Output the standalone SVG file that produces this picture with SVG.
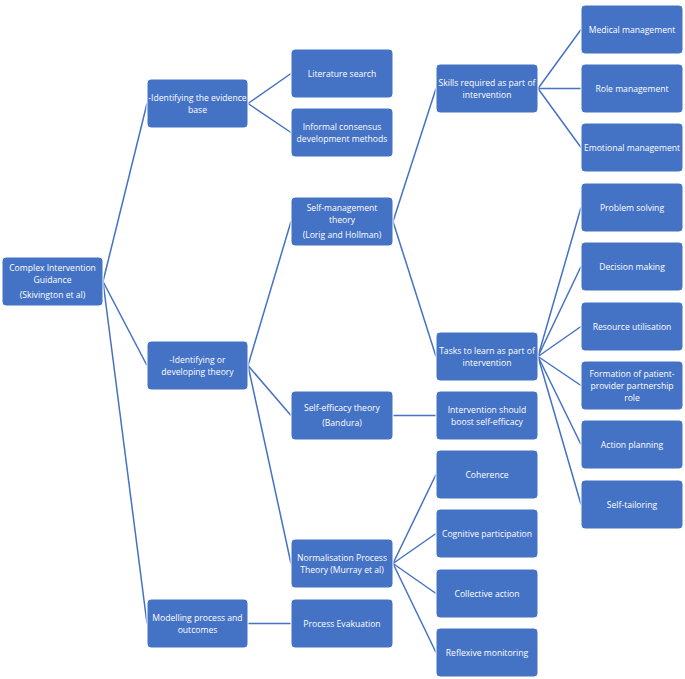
<svg xmlns="http://www.w3.org/2000/svg" width="685" height="679" viewBox="0 0 685 679">
<style>
.n rect{fill:#4472C4;stroke:#ffffff;stroke-width:1}
.n text{fill:#ffffff;font-family:"Open Sans","Liberation Sans",sans-serif;font-size:8.6px;text-anchor:middle}
#connectors line{stroke:#4472C4;stroke-width:1.5}
</style>
<rect width="685" height="679" fill="#ffffff"/>
<g id="connectors">
<line x1="103" y1="281.5" x2="147" y2="103.5"/>
<line x1="103" y1="281.5" x2="147" y2="365.5"/>
<line x1="103" y1="281.5" x2="147" y2="623.5"/>
<line x1="248" y1="103.5" x2="291" y2="73.5"/>
<line x1="248" y1="103.5" x2="291" y2="132.5"/>
<line x1="248" y1="365.5" x2="291" y2="221.5"/>
<line x1="248" y1="365.5" x2="291" y2="415.5"/>
<line x1="248" y1="365.5" x2="291" y2="563.5"/>
<line x1="248" y1="623.5" x2="291" y2="623.5"/>
<line x1="393" y1="221.5" x2="436" y2="88.5"/>
<line x1="393" y1="221.5" x2="436" y2="356.5"/>
<line x1="393" y1="415.5" x2="436" y2="415.5"/>
<line x1="393" y1="563.5" x2="436" y2="474.5"/>
<line x1="393" y1="563.5" x2="436" y2="533.5"/>
<line x1="393" y1="563.5" x2="436" y2="593.5"/>
<line x1="393" y1="563.5" x2="436" y2="652.5"/>
<line x1="538" y1="88.5" x2="581" y2="29.5"/>
<line x1="538" y1="88.5" x2="581" y2="88.5"/>
<line x1="538" y1="88.5" x2="581" y2="147.5"/>
<line x1="538" y1="356.5" x2="581" y2="207.5"/>
<line x1="538" y1="356.5" x2="581" y2="266.5"/>
<line x1="538" y1="356.5" x2="581" y2="326.5"/>
<line x1="538" y1="356.5" x2="581" y2="385.5"/>
<line x1="538" y1="356.5" x2="581" y2="444.5"/>
<line x1="538" y1="356.5" x2="581" y2="504.5"/>
</g>
<g id="root" class="n"><rect x="2" y="257" width="101" height="49" rx="4"/><text x="52.5" y="271">Complex Intervention</text><text x="52.5" y="283">Guidance</text><text x="52.5" y="298">(Skivington et al)</text></g>
<g id="evidence" class="n"><rect x="147" y="79" width="101" height="49" rx="4"/><text x="197.5" y="101">-Identifying the evidence</text><text x="197.5" y="113">base</text></g>
<g id="theory" class="n"><rect x="147" y="341" width="101" height="49" rx="4"/><text x="197.5" y="363">-Identifying or</text><text x="197.5" y="375">developing theory</text></g>
<g id="modelling" class="n"><rect x="147" y="599" width="101" height="49" rx="4"/><text x="197.5" y="621">Modelling process and</text><text x="197.5" y="633">outcomes</text></g>
<g id="literature" class="n"><rect x="291" y="49" width="102" height="49" rx="4"/><text x="342" y="77">Literature search</text></g>
<g id="informal" class="n"><rect x="291" y="108" width="102" height="49" rx="4"/><text x="342" y="130">Informal consensus</text><text x="342" y="142">development methods</text></g>
<g id="selfmanagement" class="n"><rect x="291" y="197" width="102" height="49" rx="4"/><text x="342" y="211">Self-management</text><text x="342" y="223">theory</text><text x="342" y="238">(Lorig and Hollman)</text></g>
<g id="selfefficacy" class="n"><rect x="291" y="391" width="102" height="49" rx="4"/><text x="342" y="411">Self-efficacy theory</text><text x="342" y="426">(Bandura)</text></g>
<g id="normalisation" class="n"><rect x="291" y="539" width="102" height="49" rx="4"/><text x="342" y="561">Normalisation Process</text><text x="342" y="573">Theory (Murray et al)</text></g>
<g id="process" class="n"><rect x="291" y="599" width="102" height="49" rx="4"/><text x="342" y="627">Process Evakuation</text></g>
<g id="skills" class="n"><rect x="436" y="64" width="102" height="49" rx="4"/><text x="487" y="86">Skills required as part of</text><text x="487" y="98">intervention</text></g>
<g id="tasks" class="n"><rect x="436" y="332" width="102" height="49" rx="4"/><text x="487" y="354">Tasks to learn as part of</text><text x="487" y="366">intervention</text></g>
<g id="boost" class="n"><rect x="436" y="391" width="102" height="49" rx="4"/><text x="487" y="413">Intervention should</text><text x="487" y="425">boost self-efficacy</text></g>
<g id="coherence" class="n"><rect x="436" y="450" width="102" height="49" rx="4"/><text x="487" y="478">Coherence</text></g>
<g id="cognitive" class="n"><rect x="436" y="509" width="102" height="49" rx="4"/><text x="487" y="537">Cognitive participation</text></g>
<g id="collective" class="n"><rect x="436" y="569" width="102" height="49" rx="4"/><text x="487" y="597">Collective action</text></g>
<g id="reflexive" class="n"><rect x="436" y="628" width="102" height="49" rx="4"/><text x="487" y="656">Reflexive monitoring</text></g>
<g id="medical" class="n"><rect x="581" y="5" width="102" height="49" rx="4"/><text x="632" y="33">Medical management</text></g>
<g id="role" class="n"><rect x="581" y="64" width="102" height="49" rx="4"/><text x="632" y="92">Role management</text></g>
<g id="emotional" class="n"><rect x="581" y="123" width="102" height="49" rx="4"/><text x="632" y="151">Emotional management</text></g>
<g id="problem" class="n"><rect x="581" y="183" width="102" height="49" rx="4"/><text x="632" y="211">Problem solving</text></g>
<g id="decision" class="n"><rect x="581" y="242" width="102" height="49" rx="4"/><text x="632" y="270">Decision making</text></g>
<g id="resource" class="n"><rect x="581" y="302" width="102" height="49" rx="4"/><text x="632" y="330">Resource utilisation</text></g>
<g id="formation" class="n"><rect x="581" y="361" width="102" height="49" rx="4"/><text x="632" y="377">Formation of patient-</text><text x="632" y="389">provider partnership</text><text x="632" y="401">role</text></g>
<g id="action" class="n"><rect x="581" y="420" width="102" height="49" rx="4"/><text x="632" y="448">Action planning</text></g>
<g id="tailoring" class="n"><rect x="581" y="480" width="102" height="49" rx="4"/><text x="632" y="508">Self-tailoring</text></g>
</svg>
